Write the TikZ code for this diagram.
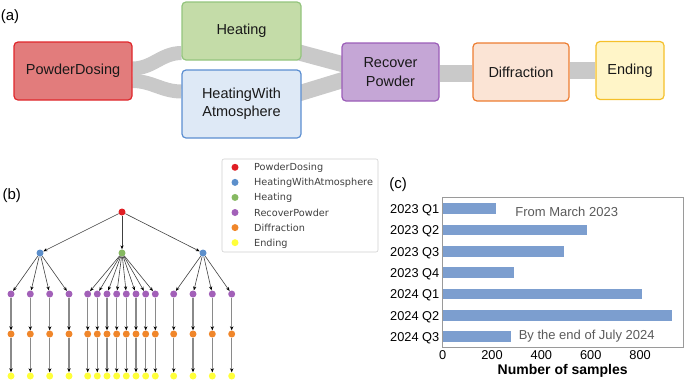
\documentclass[tikz,border=0pt]{standalone}
\usepackage{fontspec}
\setmainfont{Liberation Sans}
\newfontfamily\legendfont{DejaVu Sans}
\usetikzlibrary{arrows.meta,backgrounds}

\tikzset{
    stage/.style={rounded corners=4pt, line width=1.2pt, minimum height=58pt, inner sep=0pt,
        align=center, text=black!90, font=\fontsize{14.5}{18.3}\selectfont},
    band/.style={bandColour, line width=#1},
    band/.default=14pt,
    dot/.style={circle, inner sep=0pt, minimum size=7pt},
    treeEdge/.style={edgeColour, line width=0.6pt, -{Stealth[length=4pt, width=3.2pt, black]}},
    chainEdge/.style={chainColour, line width=1.2pt, -{Stealth[length=4pt, width=3.4pt, black]}},
    panelLabel/.style={inner sep=0pt, font=\fontsize{15}{18}\selectfont},
    axisText/.style={inner sep=0pt, font=\fontsize{12.8}{15}\selectfont}
}

\begin{document}
\begin{tikzpicture}[x=1pt, y=-1pt]
    \def\barLeft{442.7}
    \def\barUnit{0.2467}

    \definecolor{bandColour}{HTML}{C9C9C9}
    \definecolor{edgeColour}{HTML}{404040}
    \definecolor{chainColour}{HTML}{8A8A8A}
    \definecolor{doseFill}{HTML}{E27C7C}   \definecolor{doseBorder}{HTML}{E0262B}
    \definecolor{heatFill}{HTML}{C4DCA8}   \definecolor{heatBorder}{HTML}{93C47D}
    \definecolor{atmFill}{HTML}{DEE9F6}    \definecolor{atmBorder}{HTML}{5B8ED1}
    \definecolor{recFill}{HTML}{C5A6D6}    \definecolor{recBorder}{HTML}{9B5DB8}
    \definecolor{difFill}{HTML}{FBE4D5}    \definecolor{difBorder}{HTML}{ED7D31}
    \definecolor{endFill}{HTML}{FFF5C8}    \definecolor{endBorder}{HTML}{F5C02A}
    \definecolor{cDose}{HTML}{E01E24}
    \definecolor{cAtm}{HTML}{5C8FCB}
    \definecolor{cHeat}{HTML}{86B961}
    \definecolor{cRec}{HTML}{A260B8}
    \definecolor{cDif}{HTML}{F0862A}
    \definecolor{cEnd}{HTML}{FFFF3A}
    \definecolor{legendBorder}{HTML}{D0D0D0}
    \definecolor{barColour}{HTML}{7C9ECF}
    \definecolor{frameColour}{HTML}{9A9A9A}
    \definecolor{noteColour}{HTML}{5A5A5A}

    \useasboundingbox (0,0) rectangle (685,381);

    % (a) Workflow
    \node[panelLabel] (labelA) at (10,16.7) {(a)};
    \node[stage, fill=doseFill, draw=doseBorder, minimum width=118pt] (dose) at (73,71) {PowderDosing};
    \node[stage, fill=heatFill, draw=heatBorder, minimum width=119pt] (heat) at (241.5,31) {Heating};
    \node[stage, fill=atmFill, draw=atmBorder, minimum width=119pt, minimum height=68pt] (heatAtm) at (241.5,104) {HeatingWith\\Atmosphere};
    \node[stage, fill=recFill, draw=recBorder, minimum width=97pt] (recover) at (390.5,72) {Recover\\Powder};
    \node[stage, fill=difFill, draw=difBorder, minimum width=96pt] (diffr) at (521,72) {Diffraction};
    \node[stage, fill=endFill, draw=endBorder, minimum width=68pt] (ending) at (630,70.5) {Ending};

    \begin{scope}[on background layer]
        \draw[band=14pt] ([yshift=2.5pt]dose.east) to[out=0, in=180] ([yshift=-22pt]heat.west);
        \draw[band=14pt] ([yshift=-10pt]dose.east) to[out=0, in=180] ([yshift=12.5pt]heatAtm.west);
        \draw[band=16pt] ([xshift=-8pt, yshift=-20pt]heat.east) -- ([xshift=8pt, yshift=6pt]recover.west);
        \draw[band=16pt] ([xshift=-8pt, yshift=9pt]heatAtm.east) -- ([xshift=8pt, yshift=-6pt]recover.west);
        \draw[band=17pt] ([yshift=-1pt]recover.east) -- ([yshift=-1pt]diffr.west);
        \draw[band=17pt] (diffr.east |- ending.west) -- (ending.west);
    \end{scope}

    % (b) Sample tree
    \node[panelLabel] (labelB) at (11.7,195.5) {(b)};
    \node[dot, fill=cDose] (root) at (122,212) {};
    \node[dot, fill=cAtm] (atmL) at (40,253) {};
    \node[dot, fill=cHeat] (heatM) at (122,253) {};
    \node[dot, fill=cAtm] (atmR) at (203,253) {};
    \foreach \n in {atmL, heatM, atmR}
        \draw[treeEdge] (root) -- (\n);

    \foreach \x [count=\i] in {11,30.3,49.7,69,87.7,97.3,107,116.7,126.3,136,145.7,155.3,173.7,193,212.3,231.7} {
        \node[dot, fill=cRec] (rec\i) at (\x,294) {};
        \node[dot, fill=cDif] (dif\i) at (\x,334) {};
        \node[dot, fill=cEnd] (end\i) at (\x,376) {};
        \draw[chainEdge] (rec\i) -- (dif\i);
        \draw[chainEdge] (dif\i) -- (end\i);
    }
    \foreach \i in {1,...,4}
        \draw[treeEdge] (atmL) -- (rec\i);
    \foreach \i in {5,...,12}
        \draw[treeEdge] (heatM) -- (rec\i);
    \foreach \i in {13,...,16}
        \draw[treeEdge] (atmR) -- (rec\i);

    % Legend
    \node[draw=legendBorder, line width=0.6pt, rounded corners=2pt, fill=white, inner sep=0pt,
        minimum width=156pt, minimum height=93pt] (legend) at (300,205.5) {};
    \foreach \name/\col [count=\i from 0] in {PowderDosing/cDose, HeatingWithAtmosphere/cAtm, Heating/cHeat,
            RecoverPowder/cRec, Diffraction/cDif, Ending/cEnd} {
        \node[dot, fill=\col] (key\i) at (235,{167.3+15.07*\i}) {};
        \node[anchor=base west, inner sep=0pt, text=black!75, font={\legendfont\fontsize{9.7}{11}\selectfont}]
            (keyText\i) at (254,{170.8+15.07*\i}) {\name};
    }

    % (c) Samples per quarter
    \node[panelLabel] (labelC) at (398,184.5) {(c)};
    \foreach \v/\lab [count=\i from 0] in {215/2023 Q1, 584/2023 Q2, 490/2023 Q3, 290/2023 Q4,
            807/2024 Q1, 928/2024 Q2, 277/2024 Q3} {
        \fill[barColour] (\barLeft,{203.35+21.35*\i}) rectangle ++({\v*\barUnit},10.7);
        \node[axisText, anchor=base east] (quarter\i) at (439.5,{213.3+21.35*\i}) {\lab};
    }
    \draw[frameColour, line width=0.8pt] (\barLeft,197.7) rectangle (683,347.3);

    % Axis
    \foreach \t in {0,200,...,800}
        \node[axisText] (tick\t) at ({\barLeft+\t*\barUnit},355) {\t};
    \node[anchor=base, inner sep=0pt, font=\bfseries\fontsize{14}{16}\selectfont] (xLabel) at (562.7,374.3) {Number of samples};

    \node[axisText, anchor=base, text=noteColour, font=\fontsize{13}{15}\selectfont] (noteStart) at (566.7,216.4) {From March 2023};
    \node[axisText, anchor=base, text=noteColour, font=\fontsize{13}{15}\selectfont] (noteEnd) at (586.7,339) {By the end of July 2024};

\end{tikzpicture}
\end{document}
